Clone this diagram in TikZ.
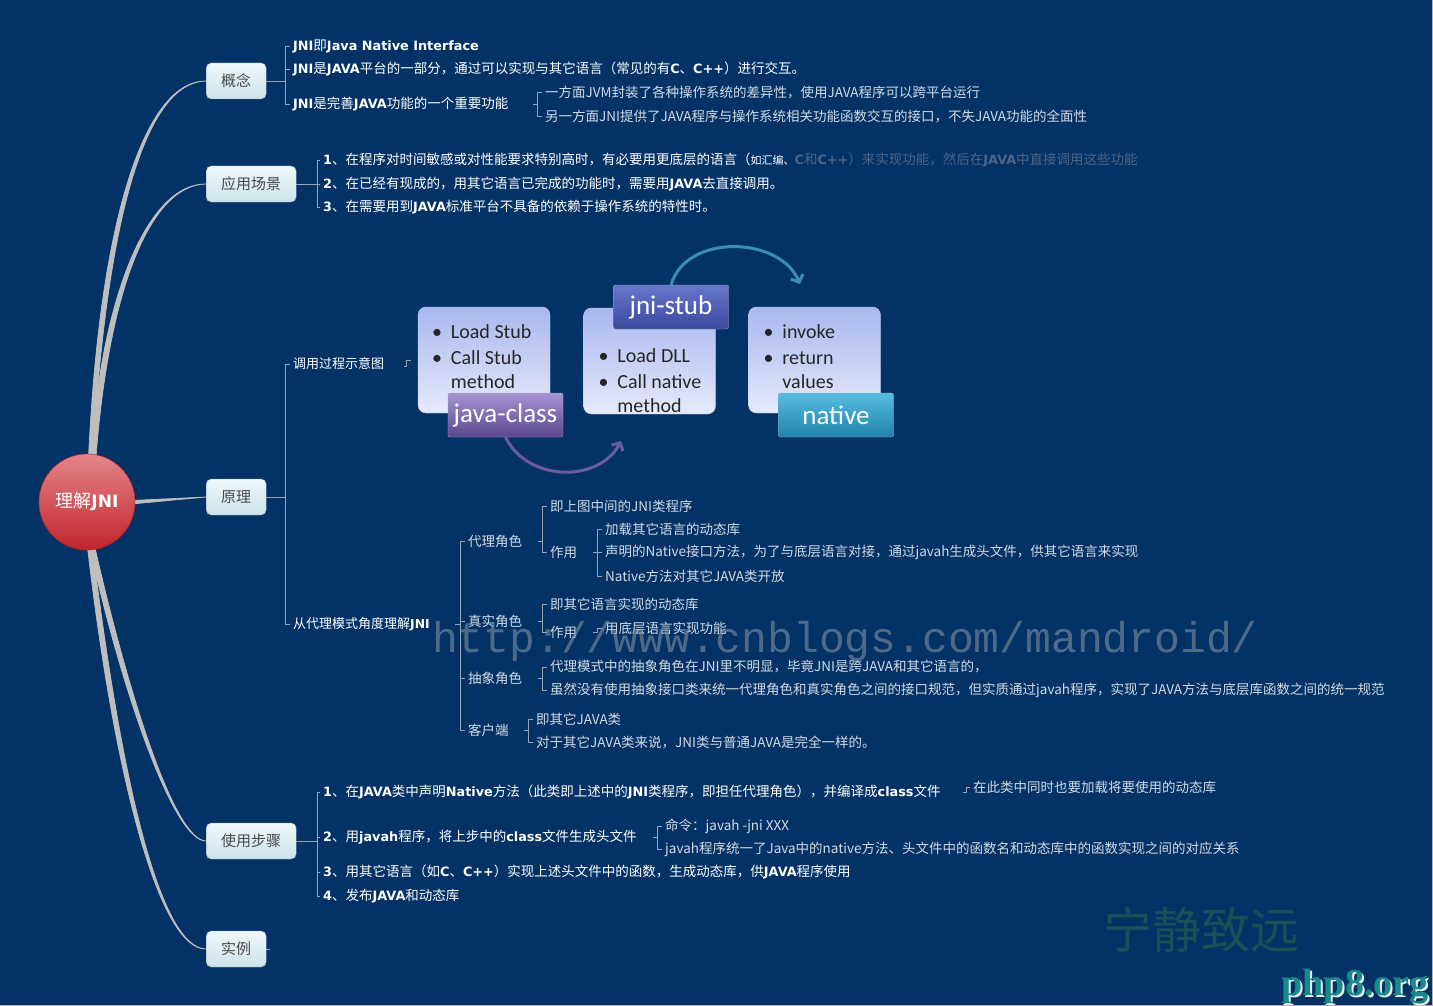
\documentclass[tikz,border=0pt]{standalone}
\usepackage{fontspec}
\setmainfont{Noto Sans CJK SC}
\newfontfamily\verdana[Scale=0.95]{DejaVu Sans}
\newfontfamily\calibri{Carlito}
\newfontfamily\wmMono{Liberation Mono}
\newfontfamily\wmSerif{Liberation Serif}
\usetikzlibrary{arrows.meta}
\definecolor{bgBlue}{HTML}{033366}
\definecolor{branchGray}{HTML}{BEBEBE}
\definecolor{lineGray}{HTML}{98A4B4}
\definecolor{topicTop}{HTML}{EEF7FA}
\definecolor{topicBottom}{HTML}{CDE3EA}
\definecolor{topicEdge}{HTML}{8AA3B0}
\definecolor{topicText}{HTML}{4A4A4A}
\definecolor{rootTop}{HTML}{E4858A}
\definecolor{rootBottom}{HTML}{C2242C}
\definecolor{rootEdge}{HTML}{A31D24}
\definecolor{noteText}{HTML}{D3DAE4}
\definecolor{dimText}{HTML}{4E6484}
\definecolor{boxTop}{HTML}{A9B7EE}
\definecolor{boxBottom}{HTML}{E6EAFC}
\definecolor{boxEdge}{HTML}{C4C8EC}
\definecolor{classTop}{HTML}{A994D4}
\definecolor{classBottom}{HTML}{59468E}
\definecolor{stubTop}{HTML}{6777CC}
\definecolor{stubBottom}{HTML}{3A489E}
\definecolor{nativeTop}{HTML}{56BCE0}
\definecolor{nativeBottom}{HTML}{1E84AC}
\definecolor{arcPurple}{HTML}{6C5C9E}
\definecolor{arcTeal}{HTML}{3A8DB5}
\definecolor{markGray}{HTML}{8E98A6}
\definecolor{markTeal}{HTML}{1A4F55}
\definecolor{siteTeal}{HTML}{178A8C}
\newcommand{\latb}[1]{{\verdana\bfseries #1}}

\begin{document}
\begin{tikzpicture}[x=1pt,y=-1pt,
  topic/.style={draw=topicEdge, rounded corners=5pt, top color=topicTop, bottom color=topicBottom,
    text=topicText, minimum height=36pt, inner xsep=15pt, font=\fontsize{15}{18}\selectfont, anchor=west},
  leaf/.style={anchor=west, inner xsep=3pt, inner ysep=1pt, text=white, font=\fontsize{13.5}{16}\selectfont},
  note/.style={leaf, text=noteText},
  branch/.style={fill=branchGray, draw=branchGray, line width=0.7pt},
  bracket/.style={draw=lineGray, line width=0.8pt},
  slideBox/.style={draw=boxEdge, rounded corners=8pt, top color=boxTop, bottom color=boxBottom,
    minimum width=132pt, minimum height=106pt},
  bullets/.style={anchor=north west, inner sep=0pt, align=left, text=black!85, font=\calibri\fontsize{20}{24}\selectfont},
  tag/.style={draw=black!35, rounded corners=2pt, minimum width=115pt, minimum height=44pt,
    text=white, font=\calibri\fontsize{27}{30}\selectfont},
  flowArc/.style={line width=3pt, -{Straight Barb[length=6pt,width=13pt]}}]
\useasboundingbox (0,0) rectangle (1433,1006);
\fill[bgBlue] (0,0) rectangle (1433,1006);
\draw[gray!60] (1432.5,0) -- (1432.5,1005.5) -- (0,1005.5);

% root and main topics
\node[circle, minimum size=96pt, draw=rootEdge, top color=rootTop, middle color=rootBottom, bottom color=rootBottom,
  text=white, font=\fontsize{18}{20}\selectfont] (root) at (87,502) {理解\latb{JNI}};
\node[topic] (gn) at (206,81) {概念};
\node[topic] (ua) at (206,184) {应用场景};
\node[topic] (pr) at (206,497) {原理};
\node[topic] (as) at (206,841) {使用步骤};
\node[topic] (ex) at (206,949) {实例};

\path[branch] (root.88) .. controls (101,200) and (150,80) .. (gn.west)
  .. controls (150,82) and (108,200) .. (root.83) -- cycle;
\path[branch] (root.85) .. controls (102,290) and (150,183) .. (ua.west)
  .. controls (150,185) and (109,290) .. (root.79) -- cycle;
\path[branch] (root.2) -- (pr.west) -- (root.-2) -- cycle;
\path[branch] (root.-80) .. controls (130,700) and (175,840) .. (as.west)
  .. controls (175,842) and (124,700) .. (root.-86) -- cycle;
\path[branch] (root.-83) .. controls (121,780) and (160,948) .. (ex.west)
  .. controls (160,950) and (115,782) .. (root.-89) -- cycle;
\node[circle, minimum size=96pt, draw=rootEdge, top color=rootTop, middle color=rootBottom, bottom color=rootBottom,
  text=white, font=\fontsize{18}{20}\selectfont] at (root) {理解\latb{JNI}};

% 概念
\node[leaf] (g1) at (290,46) {\latb{JNI}即\latb{Java Native Interface}};
\node[leaf] (g2) at (290,69) {\latb{JNI}是\latb{JAVA}平台的一部分，通过可以实现与其它语言（常见的有\latb{C}、\latb{C++}）进行交互。};
\node[leaf] (g3) at (290,104) {\latb{JNI}是完善\latb{JAVA}功能的一个重要功能};
\node[note] (g31) at (542,92) {一方面JVM封装了各种操作系统的差异性，使用JAVA程序可以跨平台运行};
\node[note] (g32) at (542,116) {另一方面JNI提供了JAVA程序与操作系统相关功能函数交互的接口，不失JAVA功能的全面性};
\coordinate (gnBar) at (285,0);
\draw[bracket] (gn.east) -- (gn.east -| gnBar) (gnBar |- g1.west) -- (gnBar |- g3.west)
  foreach \nd in {g1,g2,g3}{(gnBar |- \nd.west) -- (\nd.west)};
\coordinate (g3Bar) at (537,0);
\draw[bracket] (g3Bar |- g31.west) -- (g3Bar |- g32.west) (g3Bar |- g3.west) ++(-4,0) -- ++(4,0)
  foreach \nd in {g31,g32}{(g3Bar |- \nd.west) -- (\nd.west)};

% 应用场景
\node[leaf] (u1) at (320,160) {\latb{1}、在程序对时间敏感或对性能要求特别高时，有必要用更底层的语言（{\fontsize{11}{13}\selectfont 如汇编、}\textcolor{dimText}{\latb{C}和\latb{C++}）来实现功能，然后在\latb{JAVA}中直接调用这些功能}};
\node[leaf] (u2) at (320,184) {\latb{2}、在已经有现成的，用其它语言已完成的功能时，需要用\latb{JAVA}去直接调用。};
\node[leaf] (u3) at (320,207) {\latb{3}、在需要用到\latb{JAVA}标准平台不具备的依赖于操作系统的特性时。};
\coordinate (uaBar) at (317,0);
\draw[bracket] (ua.east) -- (ua.east -| uaBar) (uaBar |- u1.west) -- (uaBar |- u3.west)
  foreach \nd in {u1,u2,u3}{(uaBar |- \nd.west) -- (\nd.west)};

% 原理
\node[leaf, font=\fontsize{13}{16}\selectfont] (p1) at (290,364) {调用过程示意图};
\node[leaf, font=\fontsize{13}{16}\selectfont] (p2) at (290,624) {从代理模式角度理解\latb{JNI}};
\coordinate (prBar) at (285,0);
\draw[bracket] (pr.east) -- (pr.east -| prBar) (prBar |- p1.west) -- (prBar |- p2.west)
  foreach \nd in {p1,p2}{(prBar |- \nd.west) -- (\nd.west)};

\node[note] (r1) at (465,541) {代理角色};
\node[note] (r2) at (465,621) {真实角色};
\node[note] (r3) at (465,678) {抽象角色};
\node[note] (r4) at (465,730) {客户端};
\coordinate (p2Bar) at (460,0);
\draw[bracket] (p2Bar |- r1.west) -- (p2Bar |- r4.west) (p2Bar |- p2.west) ++(-5,0) -- ++(5,0)
  foreach \nd in {r1,r2,r3,r4}{(p2Bar |- \nd.west) -- (\nd.west)};

\node[note] (r11) at (547,506) {即上图中间的JNI类程序};
\node[note] (r12) at (547,552) {作用};
\coordinate (r1Bar) at (542,0);
\draw[bracket] (r1Bar |- r11.west) -- (r1Bar |- r12.west) (r1Bar |- r1.west) ++(-4,0) -- ++(4,0)
  foreach \nd in {r11,r12}{(r1Bar |- \nd.west) -- (\nd.west)};
\node[note] (r121) at (602,529) {加载其它语言的动态库};
\node[note] (r122) at (602,552) {声明的Native接口方法，为了与底层语言对接，通过javah生成头文件，供其它语言来实现};
\node[note] (r123) at (602,576) {Native方法对其它JAVA类开放};
\coordinate (r12Bar) at (597,0);
\draw[bracket] (r12Bar |- r121.west) -- (r12Bar |- r123.west) (r12Bar |- r12.west) ++(-4,0) -- ++(4,0)
  foreach \nd in {r121,r122,r123}{(r12Bar |- \nd.west) -- (\nd.west)};

\node[note] (r21) at (547,604) {即其它语言实现的动态库};
\node[note] (r22) at (547,632) {作用};
\coordinate (r2Bar) at (542,0);
\draw[bracket] (r2Bar |- r21.west) -- (r2Bar |- r22.west) (r2Bar |- r2.west) ++(-4,0) -- ++(4,0)
  foreach \nd in {r21,r22}{(r2Bar |- \nd.west) -- (\nd.west)};
\node[note] (r221) at (602,628) {用底层语言实现功能};
\draw[bracket] (r221.west) ++(-9,4) -- ++(4,0) |- (r221.west);

\node[note] (r31) at (547,667) {代理模式中的抽象角色在JNI里不明显，毕竟JNI是跨JAVA和其它语言的，};
\node[note] (r32) at (547,690) {虽然没有使用抽象接口类来统一代理角色和真实角色之间的接口规范，但实质通过javah程序，实现了JAVA方法与底层库函数之间的统一规范};
\coordinate (r3Bar) at (542,0);
\draw[bracket] (r3Bar |- r31.west) -- (r3Bar |- r32.west) (r3Bar |- r3.west) ++(-4,0) -- ++(4,0)
  foreach \nd in {r31,r32}{(r3Bar |- \nd.west) -- (\nd.west)};

\node[note] (r41) at (533,719) {即其它JAVA类};
\node[note] (r42) at (533,742) {对于其它JAVA类来说，JNI类与普通JAVA是完全一样的。};
\coordinate (r4Bar) at (528,0);
\draw[bracket] (r4Bar |- r41.west) -- (r4Bar |- r42.west) (r4Bar |- r4.west) ++(-4,0) -- ++(4,0)
  foreach \nd in {r41,r42}{(r4Bar |- \nd.west) -- (\nd.west)};

% 调用过程示意图
\node[slideBox] (k1) at (484,360) {};
\node[slideBox] (k2) at (649.5,361) {};
\node[slideBox] (k3) at (814.5,360) {};
\draw[bracket] (k1.west) ++(-14,6) -- ++(3,0) -- ++(0,-6) -- ++(4,0);
\node[bullets] (t1) at ([xshift=14pt,yshift=-18pt]k1.north west)
  {\textbullet\hspace{.45em}Load Stub\\[2pt]\textbullet\hspace{.45em}Call Stub\\\hphantom{\textbullet\hspace{.45em}}method};
\node[bullets] (t2) at ([xshift=15pt,yshift=-41pt]k2.north west)
  {\textbullet\hspace{.45em}Load DLL\\[2pt]\textbullet\hspace{.45em}Call native\\\hphantom{\textbullet\hspace{.45em}}method};
\node[bullets] (t3) at ([xshift=15pt,yshift=-18pt]k3.north west)
  {\textbullet\hspace{.45em}invoke\\[2pt]\textbullet\hspace{.45em}return\\\hphantom{\textbullet\hspace{.45em}}values};
\coordinate (a1End) at (621,441);
\coordinate (a2End) at (800,284);
\draw[flowArc, arcTeal] (671,285) .. controls +(15,-52) and +(-20,-48) .. (a2End);
\node[tag, top color=classTop, bottom color=classBottom] (jc) at (505.5,415) {java-class};
\node[tag, top color=stubTop, bottom color=stubBottom] (js) at (671,307) {jni-stub};
\node[tag, top color=nativeTop, bottom color=nativeBottom] (nt) at (836,415) {native};
\draw[flowArc, arcPurple] (jc.south) .. controls +(22,45) and +(-22,42) .. (a1End);

% 使用步骤
\node[leaf] (s1) at (320,792) {\latb{1}、在\latb{JAVA}类中声明\latb{Native}方法（此类即上述中的\latb{JNI}类程序，即担任代理角色），并编译成\latb{class}文件};
\node[leaf] (s2) at (320,837) {\latb{2}、用\latb{javah}程序，将上步中的\latb{class}文件生成头文件};
\node[leaf] (s3) at (320,872) {\latb{3}、用其它语言（如\latb{C}、\latb{C++}）实现上述头文件中的函数，生成动态库，供\latb{JAVA}程序使用};
\node[leaf] (s4) at (320,896) {\latb{4}、发布\latb{JAVA}和动态库};
\coordinate (asBar) at (317,0);
\draw[bracket] (as.east) -- (as.east -| asBar) (asBar |- s1.west) -- (asBar |- s4.west)
  foreach \nd in {s1,s2,s3,s4}{(asBar |- \nd.west) -- (\nd.west)};
\node[note] (s11) at (970,787) {在此类中同时也要加载将要使用的动态库};
\draw[bracket] (s11.west) ++(-7,5) -- ++(3,0) |- (s11.west);
\node[note] (s21) at (662,826) {命令：javah -jni XXX};
\node[note] (s22) at (662,849) {javah程序统一了Java中的native方法、头文件中的函数名和动态库中的函数实现之间的对应关系};
\coordinate (s2Bar) at (657,0);
\draw[bracket] (s2Bar |- s21.west) -- (s2Bar |- s22.west) (s2Bar |- s2.west) ++(-4,0) -- ++(4,0)
  foreach \nd in {s21,s22}{(s2Bar |- \nd.west) -- (\nd.west)};

% 实例
\draw[bracket] (ex.east) -- ++(4,0);

% watermarks
\node[text=markGray, opacity=0.55, font=\wmMono\fontsize{43}{43}\selectfont] (wmSite) at (845,641) {http://www.cnblogs.com/mandroid/};
\node[text=markTeal, font=\fontsize{49}{49}\selectfont] (wmMotto) at (1201,930) {宁静致远};
\node[text=white!85!gray, font=\wmSerif\bfseries\fontsize{38}{38}\selectfont] (wmShadow) at (1357,989) {php8.org};
\node[text=siteTeal, font=\wmSerif\bfseries\fontsize{38}{38}\selectfont] (wmPhp) at (1355,987) {php8.org};
\end{tikzpicture}
\end{document}
